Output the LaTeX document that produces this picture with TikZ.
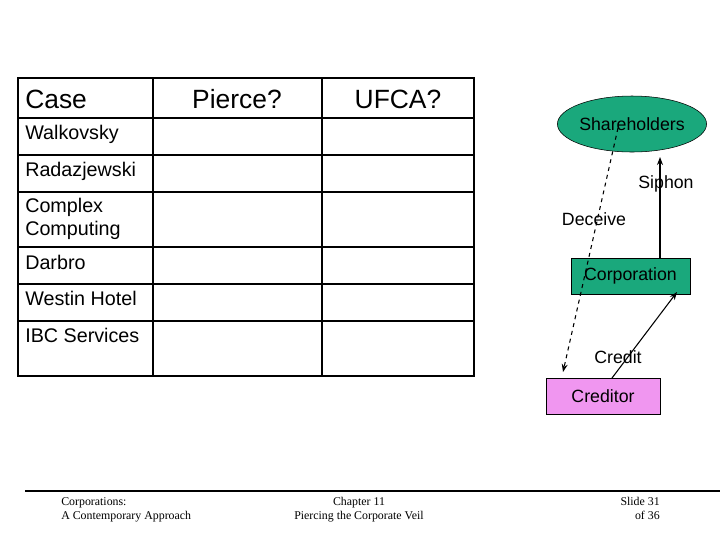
\documentclass[tikz,border=0pt]{standalone}
\usepackage{fontspec}
\setmainfont{Liberation Sans}
\newfontfamily\seriff{Liberation Serif}
\usetikzlibrary{shapes.geometric,arrows.meta}
\definecolor{grn}{RGB}{26,168,124}
\definecolor{pnk}{RGB}{240,150,240}
\begin{document}
\begin{tikzpicture}[x=0.75pt,y=-0.75pt,
  cell/.style={anchor=north west,font=\fontsize{14.8}{17}\selectfont,align=left,inner sep=0pt},
  head/.style={font=\fontsize{19.8}{22}\selectfont,inner sep=0pt},
  lbl/.style={font=\fontsize{13.3}{15}\selectfont,inner sep=0pt},
  foot/.style={font=\seriff\fontsize{8.9}{10.5}\selectfont,inner sep=0pt}]
\useasboundingbox (0,0) rectangle (720,540);
% table
\draw[line width=1pt] (18,78) rectangle (474,376);
\foreach \y in {118,155,192,247,284,321} \draw[line width=0.8pt] (18,\y) -- (474,\y);
\foreach \x in {153,322} \draw[line width=0.8pt] (\x,78) -- (\x,376);
\node[head,anchor=west] (h1) at (25,99) {Case};
\node[head] (h2) at (237,99) {Pierce?};
\node[head] (h3) at (398,99) {UFCA?};
\node[cell] (r1) at (25,125) {Walkovsky};
\node[cell] (r2) at (25,162) {Radazjewski};
\node[cell] (r3) at (25,198) {Complex\\Computing};
\node[cell] (r4) at (25,255) {Darbro};
\node[cell] (r5) at (25,291) {Westin Hotel};
\node[cell] (r6) at (25,328) {IBC Services};
% diagram
\node[ellipse,draw,fill=grn,minimum width=106.5pt,minimum height=42pt,lbl] (sh) at (632,124) {Shareholders};
\node[draw,fill=grn,minimum width=89pt,minimum height=27pt,lbl] (corp) at (630.5,276) {Corporation};
\node[draw,fill=pnk,minimum width=85.5pt,minimum height=27pt,lbl] (cred) at (603,396) {Creditor};
\coordinate (sa) at (660,258);
\coordinate (sb) at (660,157);
\draw[-{Stealth[length=6pt]},line width=0.9pt] (sa) -- (sb);
\coordinate (da) at (618,128);
\coordinate (db) at (563,372);
\draw[-{Stealth[length=6pt]},dashed,line width=0.8pt] (da) -- (db);
\coordinate (ca) at (612,378);
\coordinate (cb) at (677,292);
\draw[-{Stealth[length=6pt]},line width=0.8pt] (ca) -- (cb);
\node[lbl] (siphon) at (666,184) {Siphon};
\node[lbl] (deceive) at (594,219) {Deceive};
\node[lbl] (credit) at (618,357) {Credit};
% footer
\draw[line width=1.2pt] (25,491) -- (720,491);
\node[foot,anchor=north west,align=left] (f1) at (61,497) {Corporations:\\A Contemporary Approach};
\node[foot,anchor=north,align=center] (f2) at (359,497) {Chapter 11\\Piercing the Corporate Veil};
\node[foot,anchor=north east,align=right] (f3) at (660,497) {Slide 31\\of 36};
\end{tikzpicture}
\end{document}
